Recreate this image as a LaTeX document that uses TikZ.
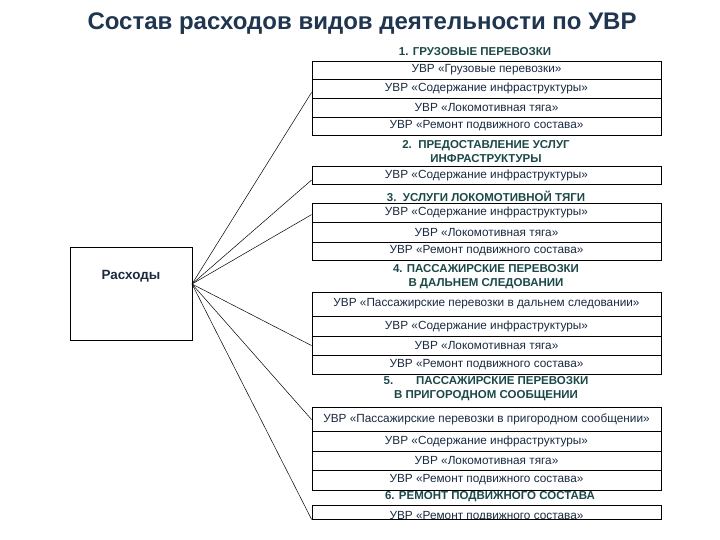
\documentclass[tikz,border=0pt]{standalone}
\usepackage{fontspec}
\setmainfont{Liberation Sans}
\definecolor{ttl}{HTML}{1F3550}
\definecolor{hdr}{HTML}{1C4848}
\definecolor{txt}{HTML}{1A2A40}
\tikzset{
 rowbox/.style={draw=black, line width=0.8pt, minimum width=349pt, inner sep=0pt, text=txt, font=\fontsize{11.8}{13}\selectfont},
 hdrtxt/.style={text=hdr, font=\bfseries\fontsize{11.5}{14}\selectfont, align=center, inner sep=0pt},
 conn/.style={line width=0.5pt}
}
\newcommand{\rowb}[4]{\node[rowbox, minimum height={#3-#2}] (#1) at (486.5,{(#2+#3)/2}) {#4};}
\begin{document}
\begin{tikzpicture}[x=1pt,y=-1pt]
\useasboundingbox (0,0) rectangle (720,540);
\node[text=ttl, font=\bfseries\fontsize{24}{28}\selectfont] (title) at (362,24) {Состав расходов видов деятельности по УВР};
\node[draw, line width=0.8pt, minimum width=122pt, minimum height=93pt, inner sep=0pt] (R) at (131,293.5) {};
\node[text=txt, font=\bfseries\fontsize{13.4}{15}\selectfont] (Rt) at (131,276) {Расходы};
\coordinate (hub) at (192,284);
% group 1
\node[hdrtxt] (h1) at (475,52) {1. ГРУЗОВЫЕ ПЕРЕВОЗКИ};
\rowb{a1}{61}{79}{УВР «Грузовые перевозки»}
\rowb{a2}{79}{98}{УВР «Содержание инфраструктуры»}
\rowb{a3}{98}{117}{УВР «Локомотивная тяга»}
\rowb{a4}{117}{135}{УВР «Ремонт подвижного состава»}
% group 2
\node[hdrtxt] (h2) at (486,152) {2.\ \ ПРЕДОСТАВЛЕНИЕ УСЛУГ\\ИНФРАСТРУКТУРЫ};
\rowb{b1}{166}{184}{УВР «Содержание инфраструктуры»}
% group 3
\node[hdrtxt] (h3) at (486,196) {3.\ \ УСЛУГИ ЛОКОМОТИВНОЙ ТЯГИ};
\rowb{c1}{203}{222}{УВР «Содержание инфраструктуры»}
\rowb{c2}{222}{242}{УВР «Локомотивная тяга»}
\rowb{c3}{242}{260}{УВР «Ремонт подвижного состава»}
% group 4
\node[hdrtxt] (h4) at (486,277) {4. ПАССАЖИРСКИЕ ПЕРЕВОЗКИ\\В ДАЛЬНЕМ СЛЕДОВАНИИ};
\rowb{d1}{292}{316}{УВР «Пассажирские перевозки в дальнем следовании»}
\rowb{d2}{316}{336}{УВР «Содержание инфраструктуры»}
\rowb{d3}{336}{355}{УВР «Локомотивная тяга»}
\rowb{d4}{355}{374}{УВР «Ремонт подвижного состава»}
% group 5
\node[hdrtxt] (h5) at (486,389) {5.\qquad ПАССАЖИРСКИЕ ПЕРЕВОЗКИ\\В ПРИГОРОДНОМ СООБЩЕНИИ};
\rowb{e1}{407}{431}{УВР «Пассажирские перевозки в пригородном сообщении»}
\rowb{e2}{431}{451}{УВР «Содержание инфраструктуры»}
\rowb{e3}{451}{470}{УВР «Локомотивная тяга»}
\rowb{e4}{470}{490}{УВР «Ремонт подвижного состава»}
% group 6
\node[hdrtxt] (h6) at (490,497) {6. РЕМОНТ ПОДВИЖНОГО СОСТАВА};
\node[draw, line width=0.8pt, minimum width=349pt, minimum height=14pt, inner sep=0pt] (f1) at (486.5,512) {};
\begin{scope}
\clip (312,505) rectangle (661,519);
\node[text=txt, font=\fontsize{11.8}{13}\selectfont] (f1t) at (486.5,517) {УВР «Ремонт подвижного состава»};
\end{scope}
% connectors
\draw[conn] (hub) -- ([yshift=-13pt]a1.south west);
\draw[conn] (hub) -- ([yshift=-5pt]b1.west);
\draw[conn] (hub) -- ([yshift=-12pt]c1.north west);
\draw[conn] (hub) -- ([yshift=-10pt]d3.north west);
\draw[conn] (hub) -- ([yshift=-13pt]e1.north west);
\draw[conn] (hub) -- (f1.south west);
\end{tikzpicture}
\end{document}
